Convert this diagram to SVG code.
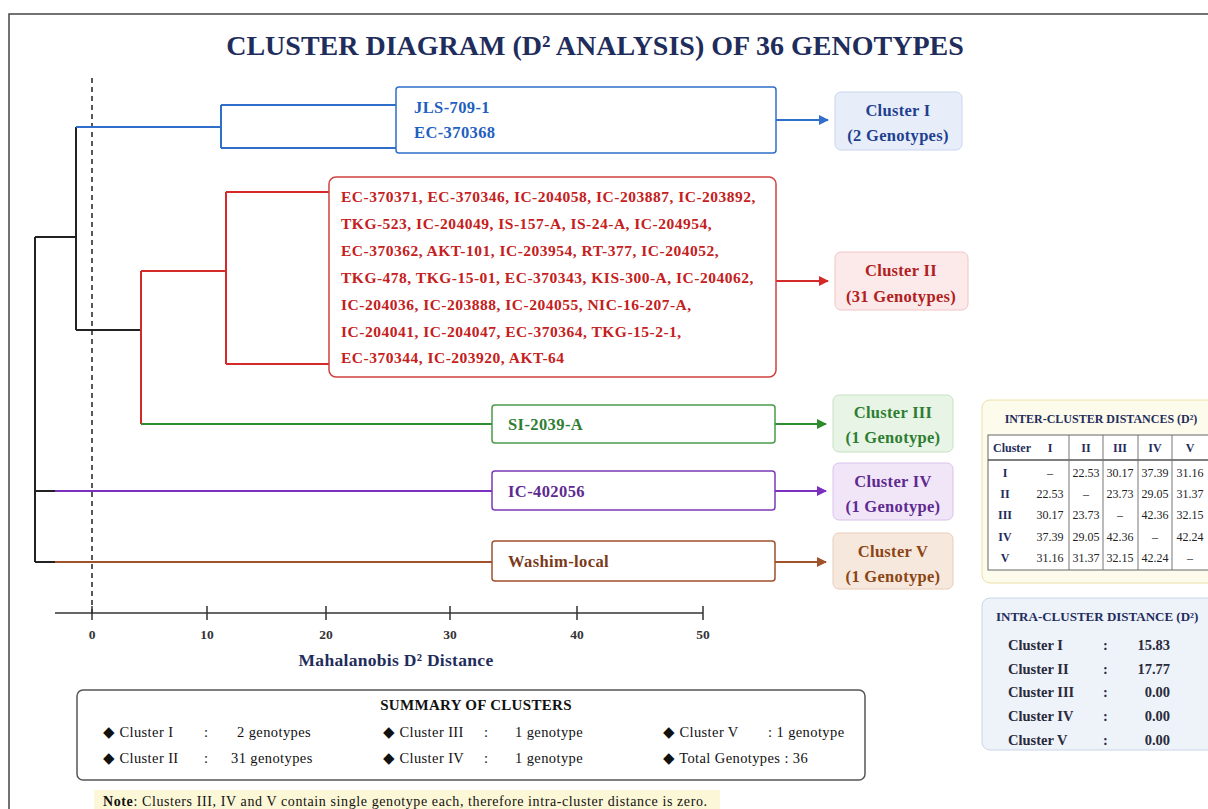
<svg xmlns="http://www.w3.org/2000/svg" width="1208" height="809" viewBox="0 0 1208 809">
<style>
text{font-family:"Liberation Serif","Times New Roman",serif}
.t{font-weight:bold;fill:#1f2d5c}
.ln{fill:none;stroke-width:2}
.k{stroke:#222}.b{stroke:#2f6fc9}.r{stroke:#d42a2a}.g{stroke:#2e8b2e}.p{stroke:#7b2fbf}.o{stroke:#a0522d}
.gbox{fill:#fff;stroke-width:1.5}
.lab{font-size:16.5px;font-weight:bold;text-anchor:middle;letter-spacing:0.3px}
.gt{font-size:16.5px;font-weight:bold;letter-spacing:0.4px}
.rt{font-size:15.5px;font-weight:bold;fill:#c42020;letter-spacing:0.5px}
.th{font-size:12px;font-weight:bold;fill:#1f2d5c;text-anchor:middle}
.td{font-size:12px;fill:#222;text-anchor:middle}
.ic{font-size:14.5px;font-weight:bold;fill:#2a2a3a}
.sm{font-size:14.5px;fill:#111;letter-spacing:0.4px}
.ax{font-size:13.5px;font-weight:bold;fill:#333;text-anchor:middle}
</style>
<defs>
<marker id="ab" markerWidth="10" markerHeight="10" refX="9" refY="5" orient="auto" markerUnits="userSpaceOnUse"><path d="M0,0 L10,5 L0,10 Z" fill="#2f6fc9"/></marker>
<marker id="ar" markerWidth="10" markerHeight="10" refX="9" refY="5" orient="auto" markerUnits="userSpaceOnUse"><path d="M0,0 L10,5 L0,10 Z" fill="#d42a2a"/></marker>
<marker id="ag" markerWidth="10" markerHeight="10" refX="9" refY="5" orient="auto" markerUnits="userSpaceOnUse"><path d="M0,0 L10,5 L0,10 Z" fill="#2e8b2e"/></marker>
<marker id="ap" markerWidth="10" markerHeight="10" refX="9" refY="5" orient="auto" markerUnits="userSpaceOnUse"><path d="M0,0 L10,5 L0,10 Z" fill="#7b2fbf"/></marker>
<marker id="ao" markerWidth="10" markerHeight="10" refX="9" refY="5" orient="auto" markerUnits="userSpaceOnUse"><path d="M0,0 L10,5 L0,10 Z" fill="#a0522d"/></marker>
</defs>
<rect width="1208" height="809" fill="#fff"/>
<path d="M9,809 V14 H1208" fill="none" stroke="#444" stroke-width="1.5"/>
<text class="t" x="595" y="55" font-size="28" text-anchor="middle">CLUSTER DIAGRAM (D² ANALYSIS) OF 36 GENOTYPES</text>

<line x1="92" y1="78" x2="92" y2="617" stroke="#222" stroke-width="1.5" stroke-dasharray="5,4"/>

<g id="connectors">
<path class="ln k" d="M35,237 V562 M35,237 H76 M76,127 V330 M76,330 H141 M35,491 H55 M35,562 H55"/>
<path class="ln b" d="M76,127 H221 M221,105 V148 M221,105 H396 M221,148 H396"/>
<path class="ln r" d="M141,271 V424 M141,271 H226 M226,192 V364 M226,192 H329 M226,364 H329"/>
<path class="ln g" d="M141,424 H492"/>
<path class="ln p" d="M55,491 H492"/>
<path class="ln o" d="M55,562 H492"/>
<line class="ln b" x1="776" y1="120" x2="828" y2="120" marker-end="url(#ab)"/>
<line class="ln r" x1="776" y1="281" x2="828" y2="281" marker-end="url(#ar)"/>
<line class="ln g" x1="775" y1="424" x2="826" y2="424" marker-end="url(#ag)"/>
<line class="ln p" x1="775" y1="491" x2="826" y2="491" marker-end="url(#ap)"/>
<line class="ln o" x1="775" y1="562" x2="826" y2="562" marker-end="url(#ao)"/>
</g>

<g id="box1">
<rect class="gbox" x="396" y="87" width="380" height="66" rx="3" stroke="#2f6fc9"/>
<text class="gt" x="414" y="113" fill="#1f5fbf">JLS-709-1</text>
<text class="gt" x="414" y="138" fill="#1f5fbf">EC-370368</text>
</g>
<g id="box2">
<rect class="gbox" x="329" y="177" width="447" height="200" rx="7" stroke="#d04040"/>
<text class="rt" x="341" y="202">EC-370371, EC-370346, IC-204058, IC-203887, IC-203892,</text>
<text class="rt" x="341" y="229">TKG-523, IC-204049, IS-157-A, IS-24-A, IC-204954,</text>
<text class="rt" x="341" y="256">EC-370362, AKT-101, IC-203954, RT-377, IC-204052,</text>
<text class="rt" x="341" y="283">TKG-478, TKG-15-01, EC-370343, KIS-300-A, IC-204062,</text>
<text class="rt" x="341" y="310">IC-204036, IC-203888, IC-204055, NIC-16-207-A,</text>
<text class="rt" x="341" y="337">IC-204041, IC-204047, EC-370364, TKG-15-2-1,</text>
<text class="rt" x="341" y="363">EC-370344, IC-203920, AKT-64</text>
</g>
<g id="box3">
<rect class="gbox" x="492" y="405" width="283" height="38" rx="3" stroke="#4a9a4a"/>
<text class="gt" x="508" y="430" fill="#2e7d32">SI-2039-A</text>
</g>
<g id="box4">
<rect class="gbox" x="492" y="471" width="283" height="39" rx="3" stroke="#7b3ab5"/>
<text class="gt" x="508" y="497" fill="#5e2a90">IC-402056</text>
</g>
<g id="box5">
<rect class="gbox" x="492" y="541" width="283" height="40" rx="3" stroke="#a0522d"/>
<text class="gt" x="508" y="567" fill="#7a3a1a">Washim-local</text>
</g>

<g id="cluster1">
<rect x="835" y="92" width="127" height="58" rx="6" fill="#e8eef9" stroke="#c9d6ee"/>
<text class="lab" x="898" y="116" fill="#1f3f8f">Cluster I</text>
<text class="lab" x="898" y="141" fill="#1f3f8f">(2 Genotypes)</text>
</g>
<g id="cluster2">
<rect x="835" y="252" width="133" height="58" rx="6" fill="#fce9e9" stroke="#f2c4c4"/>
<text class="lab" x="901" y="276" fill="#b02020">Cluster II</text>
<text class="lab" x="901" y="302" fill="#b02020">(31 Genotypes)</text>
</g>
<g id="cluster3">
<rect x="833" y="395" width="120" height="57" rx="6" fill="#e8f5e6" stroke="#c6e2c2"/>
<text class="lab" x="893" y="418" fill="#2e7d32">Cluster III</text>
<text class="lab" x="893" y="443" fill="#2e7d32">(1 Genotype)</text>
</g>
<g id="cluster4">
<rect x="833" y="463" width="120" height="57" rx="6" fill="#f1e6f8" stroke="#d8c2ea"/>
<text class="lab" x="893" y="487" fill="#5e2a90">Cluster IV</text>
<text class="lab" x="893" y="512" fill="#5e2a90">(1 Genotype)</text>
</g>
<g id="cluster5">
<rect x="833" y="533" width="120" height="56" rx="6" fill="#f7e8de" stroke="#e8ccb8"/>
<text class="lab" x="893" y="557" fill="#8b4513">Cluster V</text>
<text class="lab" x="893" y="582" fill="#8b4513">(1 Genotype)</text>
</g>

<g id="axis">
<line x1="55" y1="613" x2="703" y2="613" stroke="#333" stroke-width="1.5"/>
<path d="M92,606 V620 M207,606 V620 M326,606 V620 M450,606 V620 M577,606 V620 M703,606 V620" stroke="#333" stroke-width="1.5"/>
<text class="ax" x="92" y="639">0</text>
<text class="ax" x="207" y="639">10</text>
<text class="ax" x="326" y="639">20</text>
<text class="ax" x="450" y="639">30</text>
<text class="ax" x="577" y="639">40</text>
<text class="ax" x="703" y="639">50</text>
<text class="t" x="396" y="666" font-size="17.5" letter-spacing="0.3" text-anchor="middle">Mahalanobis D²  Distance</text>
</g>

<g id="inter">
<rect x="982" y="400" width="240" height="183" rx="8" fill="#fdfbec" stroke="#ece0a8"/>
<text class="th" x="1101" y="423" font-size="12.8">INTER-CLUSTER DISTANCES (D²)</text>
<rect x="988" y="435" width="225" height="135" fill="#fff" stroke="#666"/>
<line x1="988" y1="460" x2="1213" y2="460" stroke="#555" stroke-width="1.5"/>
<path d="M1069,435 V570 M1103,435 V570 M1138,435 V570 M1172,435 V570" stroke="#777" stroke-width="1"/>
<text class="th" x="1012" y="452">Cluster</text>
<text class="th" x="1050" y="452">I</text>
<text class="th" x="1086" y="452">II</text>
<text class="th" x="1120" y="452">III</text>
<text class="th" x="1155" y="452">IV</text>
<text class="th" x="1190" y="452">V</text>
<g>
<text class="th" x="1005" y="477">I</text><text class="td" x="1050" y="477">–</text><text class="td" x="1086" y="477">22.53</text><text class="td" x="1120" y="477">30.17</text><text class="td" x="1155" y="477">37.39</text><text class="td" x="1190" y="477">31.16</text>
<text class="th" x="1005" y="498">II</text><text class="td" x="1050" y="498">22.53</text><text class="td" x="1086" y="498">–</text><text class="td" x="1120" y="498">23.73</text><text class="td" x="1155" y="498">29.05</text><text class="td" x="1190" y="498">31.37</text>
<text class="th" x="1005" y="519">III</text><text class="td" x="1050" y="519">30.17</text><text class="td" x="1086" y="519">23.73</text><text class="td" x="1120" y="519">–</text><text class="td" x="1155" y="519">42.36</text><text class="td" x="1190" y="519">32.15</text>
<text class="th" x="1005" y="541">IV</text><text class="td" x="1050" y="541">37.39</text><text class="td" x="1086" y="541">29.05</text><text class="td" x="1120" y="541">42.36</text><text class="td" x="1155" y="541">–</text><text class="td" x="1190" y="541">42.24</text>
<text class="th" x="1005" y="562">V</text><text class="td" x="1050" y="562">31.16</text><text class="td" x="1086" y="562">31.37</text><text class="td" x="1120" y="562">32.15</text><text class="td" x="1155" y="562">42.24</text><text class="td" x="1190" y="562">–</text>
</g>
</g>

<g id="intra">
<rect x="982" y="598" width="240" height="152" rx="8" fill="#eef3fa" stroke="#cbd6e6"/>
<text class="t" x="996" y="621" font-size="13">INTRA-CLUSTER DISTANCE (D²)</text>
<text class="ic" x="1008" y="650">Cluster I</text><text class="ic" x="1103" y="650">:</text><text class="ic" x="1170" y="650" text-anchor="end">15.83</text>
<text class="ic" x="1008" y="674">Cluster II</text><text class="ic" x="1103" y="674">:</text><text class="ic" x="1170" y="674" text-anchor="end">17.77</text>
<text class="ic" x="1008" y="697">Cluster III</text><text class="ic" x="1103" y="697">:</text><text class="ic" x="1170" y="697" text-anchor="end">0.00</text>
<text class="ic" x="1008" y="721">Cluster IV</text><text class="ic" x="1103" y="721">:</text><text class="ic" x="1170" y="721" text-anchor="end">0.00</text>
<text class="ic" x="1008" y="745">Cluster V</text><text class="ic" x="1103" y="745">:</text><text class="ic" x="1170" y="745" text-anchor="end">0.00</text>
</g>

<g id="summary">
<rect x="77" y="690" width="788" height="90" rx="6" fill="#fff" stroke="#555" stroke-width="1.5"/>
<text x="476" y="710" font-size="15" font-weight="bold" letter-spacing="0.3" fill="#111" text-anchor="middle">SUMMARY OF CLUSTERS</text>
<text class="sm" x="103" y="737">◆ Cluster I</text><text class="sm" x="204" y="737">:</text><text class="sm" x="237" y="737">2 genotypes</text>
<text class="sm" x="103" y="763">◆ Cluster II</text><text class="sm" x="204" y="763">:</text><text class="sm" x="231" y="763">31 genotypes</text>
<text class="sm" x="383" y="737">◆ Cluster III</text><text class="sm" x="484" y="737">:</text><text class="sm" x="515" y="737">1 genotype</text>
<text class="sm" x="383" y="763">◆ Cluster IV</text><text class="sm" x="484" y="763">:</text><text class="sm" x="515" y="763">1 genotype</text>
<text class="sm" x="663" y="737">◆ Cluster V</text><text class="sm" x="768" y="737">: 1 genotype</text>
<text class="sm" x="663" y="763">◆ Total Genotypes : 36</text>
</g>

<g id="note">
<rect x="94" y="790" width="626" height="19" fill="#fcf7d6"/>
<text x="103" y="806" font-size="14" letter-spacing="0.6" fill="#111"><tspan font-weight="bold">Note</tspan>: Clusters III, IV and V contain single genotype each, therefore intra-cluster distance is zero.</text>
</g>
</svg>
